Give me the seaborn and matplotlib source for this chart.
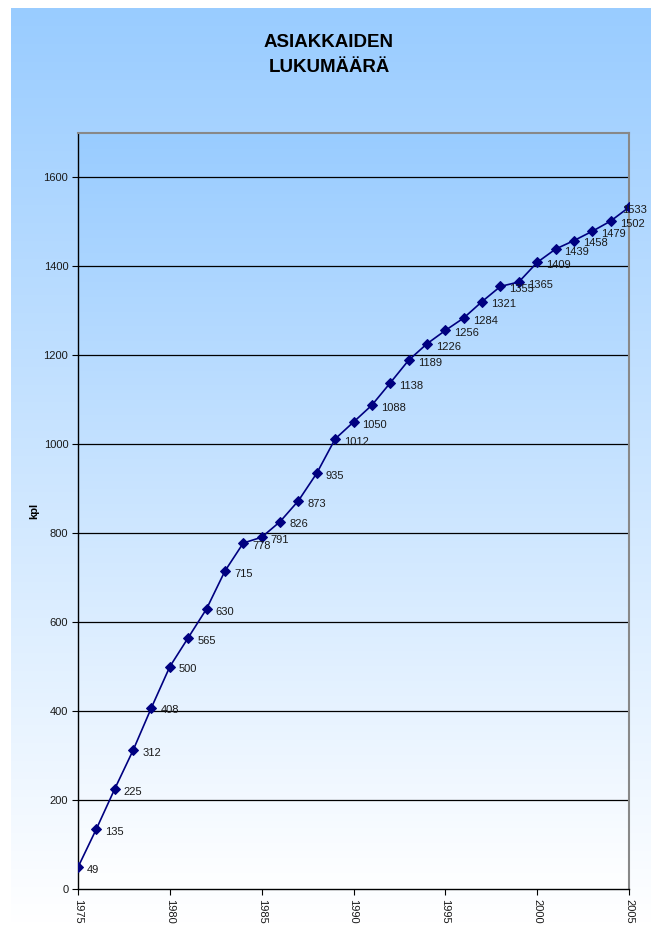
import numpy as np
import pandas as pd
import matplotlib
matplotlib.use('Agg')
import matplotlib.pyplot as plt
import seaborn as sns
from matplotlib.colors import LinearSegmentedColormap

# data
years = list(range(1975, 2006))
customers = [49, 135, 225, 312, 408, 500, 565, 630, 715, 778,
             791, 826, 873, 935, 1012, 1050, 1088, 1138, 1189, 1226,
             1256, 1284, 1321, 1355, 1365, 1409, 1439, 1458, 1479, 1502,
             1533]
x_ticks = [1975, 1980, 1985, 1990, 1995, 2000, 2005]
y_ticks = [0, 200, 400, 600, 800, 1000, 1200, 1400, 1600]

df = pd.DataFrame({'vuosi': years, 'kpl': customers})

sns.set_style('white')
plt.rcParams['font.family'] = ['Liberation Sans', 'DejaVu Sans']

fig = plt.figure(figsize=(6.51, 9.26), dpi=100)
fig.patch.set_facecolor('white')

grad = LinearSegmentedColormap.from_list('bg', ['#99ccff', '#ffffff'])
g = np.linspace(0, 1, 256).reshape(-1, 1)

# chart area background
bg = fig.add_axes([11 / 651, 0, 1 - 11 / 651, 1 - 8 / 926])
bg.imshow(g, cmap=grad, aspect='auto', extent=[0, 1, 0, 1], origin='upper')
bg.set_axis_off()

ax = fig.add_axes([78 / 651, 1 - 889 / 926, (629 - 78) / 651, (889 - 133) / 926])
ax.patch.set_alpha(0)
ax.imshow(g, cmap=grad, aspect='auto', extent=[0, 1, 0, 1], origin='upper',
          transform=ax.transAxes, zorder=0)

for yv in y_ticks[1:]:
    ax.axhline(yv, color='black', lw=0.9, zorder=1)

sns.lineplot(data=df, x='vuosi', y='kpl', ax=ax, color='#000080', lw=1.2,
             marker='D', markersize=5.5, markeredgecolor='#000080', zorder=3)

for i, (xv, yv) in enumerate(zip(years, customers)):
    dx = 6.5 if i < len(years) - 1 else -5
    ax.annotate(str(yv), (xv, yv), xytext=(dx, -2), textcoords='offset points',
                fontsize=8, va='center', ha='left', color='#1a1a1a', zorder=4)

ax.set_xlim(1975, 2005)
ax.set_ylim(0, 1700)
ax.set_xticks(x_ticks)
ax.set_xticklabels([str(t) for t in x_ticks], rotation=-90, fontsize=8)
ax.set_yticks(y_ticks)
ax.set_yticklabels([str(t) for t in y_ticks], fontsize=8)
ax.tick_params(axis='both', direction='out', length=4, width=0.8, color='black',
               left=True, bottom=True, pad=3, labelcolor='#1a1a1a')
ax.set_xlabel('')
ax.set_ylabel('kpl', fontsize=8, fontweight='bold', labelpad=3, color='black')

for s in ['left', 'bottom']:
    ax.spines[s].set_color('black')
    ax.spines[s].set_linewidth(1.0)
for s in ['top', 'right']:
    ax.spines[s].set_color('#888888')
    ax.spines[s].set_linewidth(1.5)
    ax.spines[s].set_visible(True)

fig.text(329 / 651, 1 - 55 / 926, 'ASIAKKAIDEN\nLUKUMÄÄRÄ', ha='center', va='center',
         fontsize=13.5, fontweight='bold', linespacing=1.6, color='black')

fig.savefig('out.png', dpi=100)
